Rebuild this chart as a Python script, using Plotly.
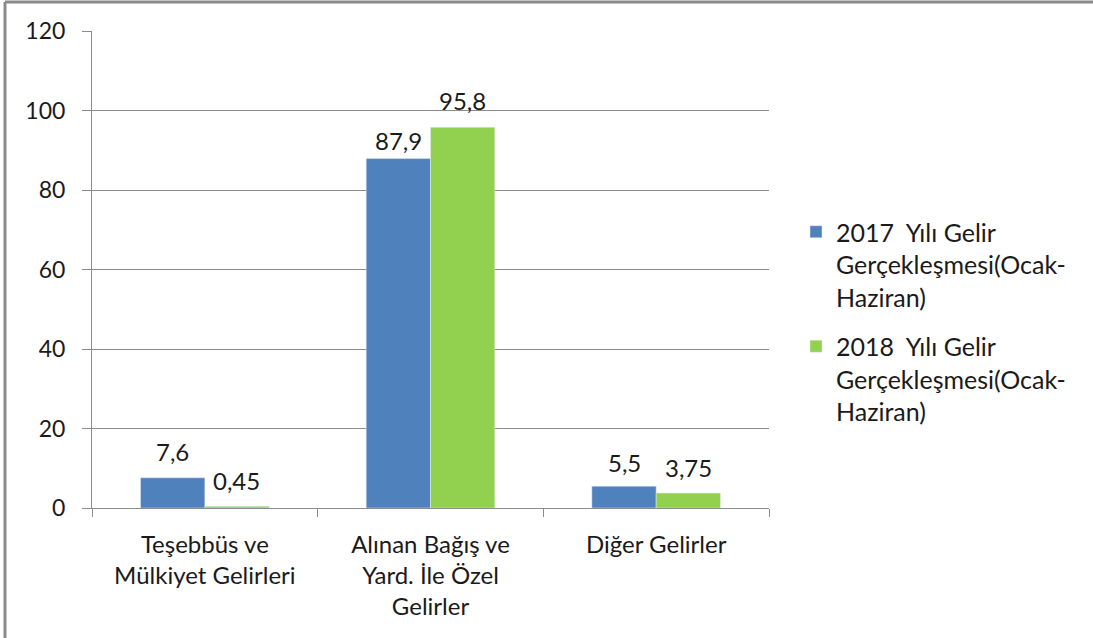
import plotly.graph_objects as go

categories = ["Teşebbüs ve<br>Mülkiyet Gelirleri", "Alınan Bağış ve<br>Yard. İle Özel<br>Gelirler", "Diğer Gelirler"]
series_2017 = [7.6, 87.9, 5.5]
series_2018 = [0.45, 95.8, 3.75]
labels_2017 = ["7,6", "87,9", "5,5"]
labels_2018 = ["0,45", "95,8", "3,75"]
name_2017 = "2017  Yılı Gelir<br>Gerçekleşmesi(Ocak-<br>Haziran)"
name_2018 = "2018  Yılı Gelir<br>Gerçekleşmesi(Ocak-<br>Haziran)"
y_ticks = [0, 20, 40, 60, 80, 100, 120]

FONT = "Lato"
GRID = "#8c8c8c"
TXT = "#1a1a1a"

fig = go.Figure()
fig.add_trace(go.Bar(x=categories, y=series_2017, name=name_2017, marker_color="#4F81BD",
                     legendgroup="a", hoverinfo="skip"))
fig.add_trace(go.Bar(x=categories, y=series_2018, name=name_2018, marker_color="#92D050",
                     legendgroup="b", hoverinfo="skip"))

# data labels placed above each bar (label offsets as in the original Excel chart)
label_lift_2017 = [26, 18, 24]
label_lift_2018 = [26, 27, 26]
annotations = []
for cat, v, t, lift in zip(categories, series_2017, labels_2017, label_lift_2017):
    annotations.append(dict(x=cat, y=v, text=t, xref="x", yref="y", showarrow=False,
                            xshift=-32, yshift=lift, yanchor="middle",
                            font=dict(family=FONT, size=24, color=TXT)))
for cat, v, t, lift in zip(categories, series_2018, labels_2018, label_lift_2018):
    annotations.append(dict(x=cat, y=v, text=t, xref="x", yref="y", showarrow=False,
                            xshift=32, yshift=lift, yanchor="middle",
                            font=dict(family=FONT, size=24, color=TXT)))

W, H = 1093, 638
L, R, T, B = 92, 324, 31, 130
pw, ph = W - L - R, H - T - B
bx = (5 - L) / pw
by = (H - B - 2) / ph

fig.update_layout(
    width=W, height=H,
    margin=dict(l=L, r=R, t=T, b=B),
    paper_bgcolor="white", plot_bgcolor="white",
    barmode="group", bargap=0.43, bargroupgap=0,
    font=dict(family=FONT, size=24, color=TXT),
    annotations=annotations,
    legend=dict(x=(796 - L) / pw, y=(H - B - 209) / ph, xanchor="left", yanchor="top",
                font=dict(family=FONT, size=25, color=TXT), valign="top",
                tracegroupgap=14, itemwidth=30, bgcolor="rgba(0,0,0,0)"),
    xaxis=dict(showline=True, linecolor=GRID, linewidth=1, ticks="outside", tickson="boundaries",
               ticklen=8, tickcolor=GRID, tickfont=dict(family=FONT, size=24, color=TXT),
               ticklabelstandoff=15),
    yaxis=dict(range=[0, 120], tickvals=y_ticks, showgrid=True, gridcolor=GRID, gridwidth=1,
               showline=True, linecolor=GRID, linewidth=1, ticks="outside", ticklen=9,
               tickcolor=GRID, zeroline=False, tickfont=dict(family=FONT, size=23, color=TXT),
               ticklabelstandoff=12),
    shapes=[
        dict(type="line", xref="paper", yref="paper", x0=bx, x1=bx, y0=-1, y1=by,
             line=dict(color="#8a8a8a", width=3)),
        dict(type="line", xref="paper", yref="paper", x0=bx, x1=2, y0=by, y1=by,
             line=dict(color="#8a8a8a", width=3)),
    ],
)

fig.write_html("out.html", config={"displayModeBar": False},
               post_script="document.body.style.margin='0';document.body.style.overflow='hidden';")
